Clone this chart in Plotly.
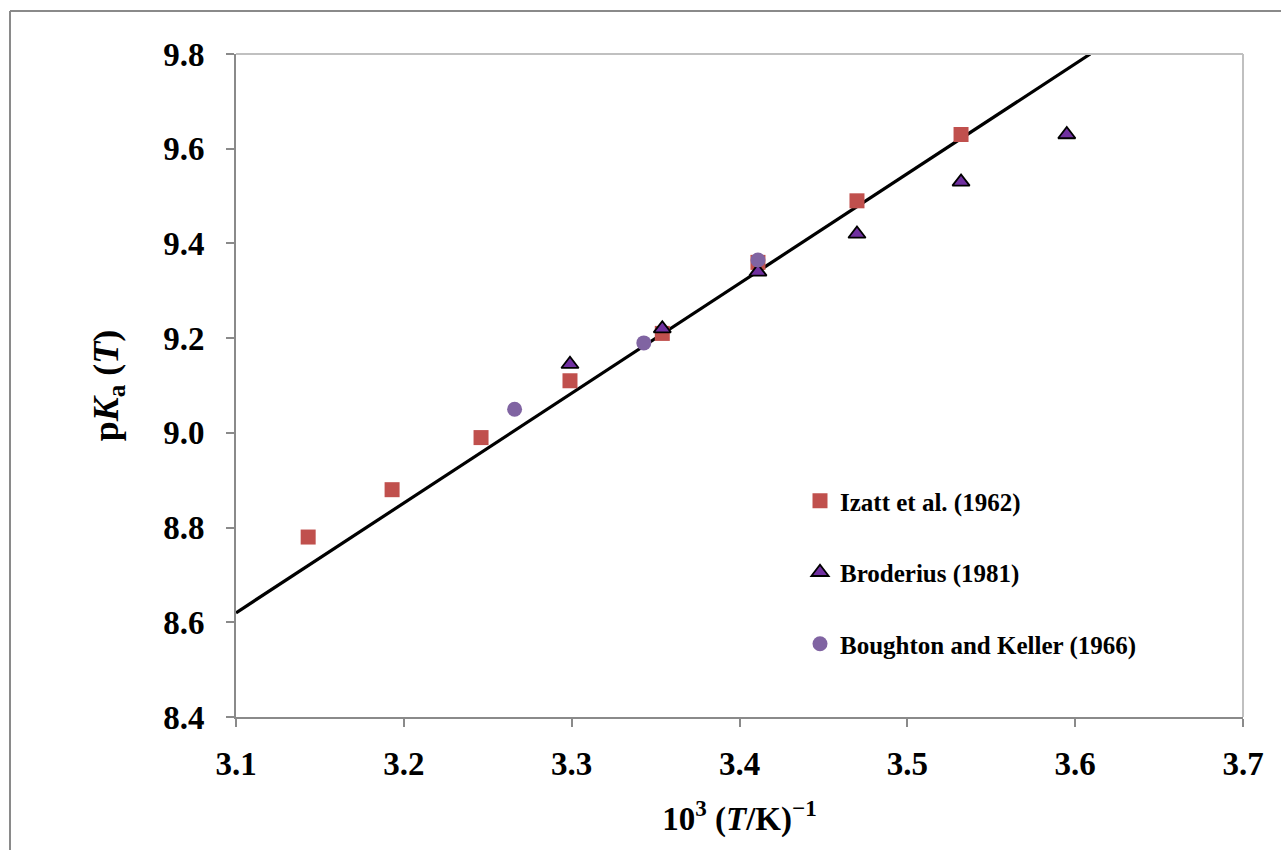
import plotly.graph_objects as go

# Izatt et al. (1962)
izatt_x = [3.143, 3.193, 3.246, 3.299, 3.354, 3.411, 3.470, 3.532]
izatt_y = [8.78, 8.88, 8.99, 9.11, 9.21, 9.36, 9.49, 9.63]
# Broderius (1981)
brod_x = [3.299, 3.354, 3.411, 3.470, 3.532, 3.595]
brod_y = [9.145, 9.22, 9.34, 9.42, 9.53, 9.63]
# Boughton and Keller (1966)
boug_x = [3.266, 3.343, 3.411]
boug_y = [9.05, 9.19, 9.365]
# fitted line
fit_x = [3.1, 3.609]
fit_y = [8.62, 9.8]

x_ticks = [3.1, 3.2, 3.3, 3.4, 3.5, 3.6, 3.7]
y_ticks = [8.4, 8.6, 8.8, 9.0, 9.2, 9.4, 9.6, 9.8]

FONT = "Liberation Serif, Times New Roman, serif"

fig = go.Figure()
fig.add_trace(go.Scatter(x=fit_x, y=fit_y, mode="lines", line=dict(color="black", width=3.2),
                         showlegend=False, hoverinfo="skip"))
fig.add_trace(go.Scatter(x=izatt_x, y=izatt_y, mode="markers", name="<b>Izatt et al. (1962)</b>",
                         legendgroup="a",
                         marker=dict(symbol="square", size=15, color="#C0504D",
                                     line=dict(width=0))))
fig.add_trace(go.Scatter(x=brod_x, y=brod_y, mode="markers", name="<b>Broderius (1981)</b>",
                         legendgroup="b",
                         marker=dict(symbol="triangle-up", size=15, color="#7030A0",
                                     line=dict(width=1.8, color="black"))))
fig.add_trace(go.Scatter(x=boug_x, y=boug_y, mode="markers", name="<b>Boughton and Keller (1966)</b>",
                         legendgroup="c",
                         marker=dict(symbol="circle", size=15, color="#8064A2",
                                     line=dict(width=0))))

W, H = 1281, 850
L, R, T, B = 236, 38, 54, 133
pw, ph = W - L - R, H - T - B

def px_x(p):
    return (p - L) / pw

def px_y(p):
    return (H - B - p) / ph

shapes = [
    # outer frame (top and left)
    dict(type="line", xref="paper", yref="paper", x0=px_x(10), x1=px_x(1290), y0=px_y(11), y1=px_y(11),
         line=dict(color="#8a8a8a", width=2)),
    dict(type="line", xref="paper", yref="paper", x0=px_x(10), x1=px_x(10), y0=px_y(11), y1=px_y(860),
         line=dict(color="#8a8a8a", width=2)),
    # plot area border (top and right)
    dict(type="line", xref="paper", yref="paper", x0=0, x1=1, y0=1, y1=1,
         line=dict(color="#c0c0c0", width=2)),
    dict(type="line", xref="paper", yref="paper", x0=1, x1=1, y0=0, y1=1,
         line=dict(color="#c0c0c0", width=2)),
]

fig.update_layout(
    width=W, height=H,
    margin=dict(l=L, r=R, t=T, b=B),
    paper_bgcolor="white", plot_bgcolor="white",
    font=dict(family=FONT, color="black"),
    shapes=shapes,
    showlegend=True,
    legend=dict(x=px_x(800), y=px_y(478), xanchor="left", yanchor="top",
                font=dict(family=FONT, size=25, color="black"),
                tracegroupgap=36, bgcolor="rgba(0,0,0,0)", itemwidth=30),
    xaxis=dict(range=[3.1, 3.7], tickvals=x_ticks,
               ticktext=[f"<b>{v:.1f}</b>" for v in x_ticks],
               showgrid=False, zeroline=False, showline=True, linecolor="#8a8a8a", linewidth=2,
               ticks="outside", ticklen=8, tickwidth=2, tickcolor="#8a8a8a",
               tickfont=dict(family=FONT, size=33, color="black"),
               ticklabelstandoff=8,
               title=dict(text="<b>10<sup>3</sup> (<i>T</i>/K)<sup>−1</sup></b>",
                          font=dict(family=FONT, size=33, color="black"), standoff=26)),
    yaxis=dict(range=[8.4, 9.8], tickvals=y_ticks,
               ticktext=[f"<b>{v:.1f}</b>" for v in y_ticks],
               showgrid=False, zeroline=False, showline=True, linecolor="#8a8a8a", linewidth=2,
               ticks="outside", ticklen=8, tickwidth=2, tickcolor="#8a8a8a",
               tickfont=dict(family=FONT, size=33, color="black"),
               ticklabelstandoff=15,
               title=dict(text="<b>p<i>K</i><sub>a</sub> (<i>T</i>)</b>",
                          font=dict(family=FONT, size=36, color="black"), standoff=34)),
)

fig.write_html("out.html")
